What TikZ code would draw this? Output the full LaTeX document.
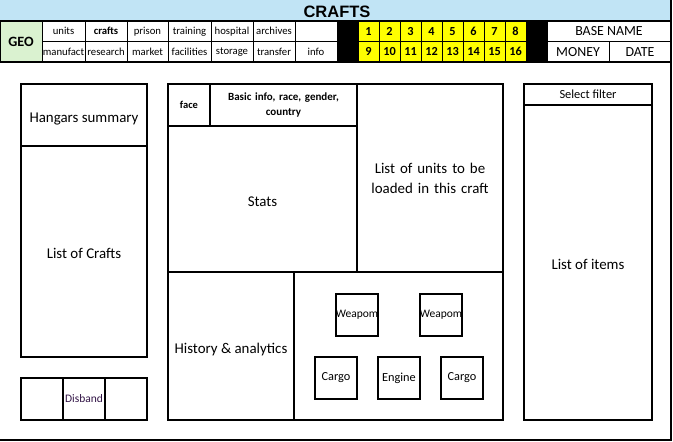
\documentclass[tikz,border=0pt]{standalone}
\usepackage{fontspec}
\setmainfont{Carlito}
\newfontfamily\titlefont{Liberation Sans}
\definecolor{titleblue}{RGB}{193,228,245}
\definecolor{geogreen}{RGB}{218,242,208}
\definecolor{hdryellow}{RGB}{255,255,0}
\definecolor{disbandcol}{RGB}{50,20,70}
\newcommand\mybox[7]{\node[#1, minimum width={(#5-#3)*1pt}, minimum height={(#6-#4)*1pt}] (#2) at ({(#3+#5)/2},{(#4+#6)/2}) {#7};}
\newcommand\fs[2]{\fontsize{#1}{#2}\selectfont}
\begin{document}
\begin{tikzpicture}[x=1pt,y=-1pt,
  panel/.style={draw, line width=2pt, inner sep=0pt, align=center, font=\fs{14.9}{20}},
  lowpanel/.style={panel, text height=16pt, text depth=2pt},
  slot/.style={draw, line width=2pt, inner sep=0pt, align=center, font=\fs{11.5}{14}},
  bigslot/.style={slot, font=\fs{12.3}{14}},
  hcell/.style={draw, line width=0.8pt, inner sep=0pt, align=center, font=\fs{10.7}{13}},
  numcell/.style={hcell, fill=hdryellow, font=\fs{12.3}{14}\bfseries},
  blackcell/.style={draw, line width=0.8pt, fill=black, inner sep=0pt},
  infocell/.style={hcell, font=\fs{13.9}{16}},
  frameline/.style={line width=2pt}]
\useasboundingbox (0,0) rectangle (673,442);

% title bar
\mybox{fill=titleblue, inner sep=0pt}{title}{0}{0}{671}{21}{}
\node[font=\titlefont\fontsize{16.5}{18}\selectfont\bfseries] (titletext) at (337,11.5) {CRAFTS};

% header row cells
\mybox{hcell, fill=geogreen, font=\fs{14.2}{16}\bfseries}{geo}{0}{21}{42}{62}{GEO}
\mybox{hcell}{units}{42}{21}{85}{41.5}{units}
\mybox{hcell, font=\fs{10.7}{13}\bfseries}{crafts}{85}{21}{127}{41.5}{crafts}
\mybox{hcell}{prison}{127}{21}{168}{41.5}{prison}
\mybox{hcell}{training}{168}{21}{211}{41.5}{training}
\mybox{hcell}{hospital}{211}{21}{253}{41.5}{hospital}
\mybox{hcell}{archives}{253}{21}{295}{41.5}{archives}
\mybox{hcell}{blankcell}{295}{21}{337}{41.5}{}
\mybox{hcell}{manufact}{42}{41.5}{85}{62}{manufact}
\mybox{hcell}{research}{85}{41.5}{127}{62}{research}
\mybox{hcell}{market}{127}{41.5}{168}{62}{market}
\mybox{hcell}{facilities}{168}{41.5}{211}{62}{facilities}
\mybox{hcell}{storage}{211}{41.5}{253}{62}{storage}
\mybox{hcell}{transfer}{253}{41.5}{295}{62}{transfer}
\mybox{hcell}{info}{295}{41.5}{337}{62}{info}
\mybox{blackcell}{blackL}{337}{21}{358}{62}{}
\mybox{blackcell}{blackR}{526}{21}{547}{62}{}
\foreach \i in {1,...,8} {
  \pgfmathsetmacro\xa{358+(\i-1)*21}
  \pgfmathsetmacro\xb{358+\i*21}
  \pgfmathtruncatemacro\j{\i+8}
  \mybox{numcell}{n\i}{\xa}{21}{\xb}{41.5}{\i}
  \mybox{numcell}{n\j}{\xa}{41.5}{\xb}{62}{\j}
}
\mybox{infocell}{basename}{547}{21}{671}{41.5}{BASE NAME}
\mybox{infocell}{money}{547}{41.5}{609}{62}{MONEY}
\mybox{infocell}{date}{609}{41.5}{671}{62}{DATE}

% header thick rules and outer frame
\coordinate (hTL) at (0,21);
\coordinate (hTR) at (671,21);
\coordinate (hBL) at (0,62);
\coordinate (hBR) at (671,62);
\coordinate (frTR) at (671,0);
\coordinate (frBR) at (671,440);
\coordinate (frBL) at (0,440);
\draw[frameline] (hTL) -- (hTR);
\draw[frameline] (hBL) -- (hBR);
\draw[frameline] (frTR) -- (frBR) -- (frBL);

% left column
\mybox{lowpanel}{hangars}{21}{84}{147}{146}{Hangars summary}
\mybox{lowpanel}{craftlist}{21}{146}{147}{357}{List of Crafts}
\mybox{slot}{btnA}{21}{378}{63}{420}{}
\mybox{slot, text=disbandcol}{disband}{63}{378}{105}{420}{Disband}
\mybox{slot}{btnC}{105}{378}{147}{420}{}

% middle block
\mybox{panel, font=\fs{10.5}{13}\bfseries}{face}{168}{84}{210}{126}{face}
\mybox{panel, font=\fs{11}{15}\bfseries, text width=140pt}{basic}{210}{84}{357}{126}{Basic info, race, gender,\\country}
\mybox{lowpanel}{stats}{168}{126}{357}{272}{Stats}
\mybox{panel, text width=140pt}{units2}{357}{84}{503}{272}{List of units to be\\loaded in this craft}
\mybox{lowpanel}{history}{168}{272}{294}{420}{History \& analytics}
\mybox{panel}{slots}{294}{272}{503}{420}{}
\mybox{slot}{weap1}{336}{294}{378}{336}{Weapom}
\mybox{slot}{weap2}{420}{294}{462}{336}{Weapom}
\mybox{bigslot}{cargo1}{315}{357}{357}{399}{Cargo}
\mybox{bigslot}{engine}{378}{357}{420}{399}{Engine}
\mybox{bigslot}{cargo2}{441}{357}{483}{399}{Cargo}

% right column
\mybox{panel, font=\fs{12.4}{15}}{filter}{524}{84}{652}{105}{Select filter}
\mybox{lowpanel}{items}{524}{105}{652}{420}{List of items}
\end{tikzpicture}
\end{document}
